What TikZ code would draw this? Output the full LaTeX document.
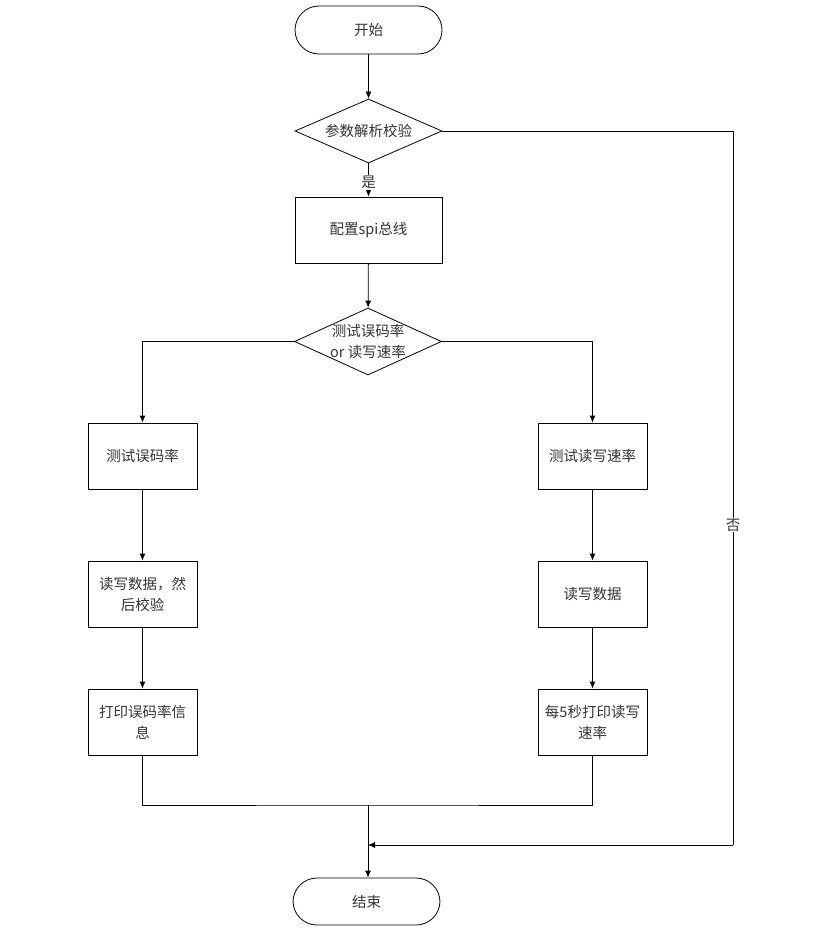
\documentclass[tikz,border=0pt]{standalone}
\usepackage{fontspec}
\setmainfont{Noto Sans CJK SC}
\usetikzlibrary{shapes.geometric,arrows.meta}

\tikzset{
  inicio/.style={draw, rounded corners=24pt, minimum width=147pt, minimum height=48pt},
  caja/.style={draw, minimum width=147pt, minimum height=66pt, align=center},
  cajita/.style={draw, minimum width=109pt, minimum height=66pt, align=center},
  decision/.style={draw, diamond, inner sep=0pt, minimum width=147pt, minimum height=64pt},
  flecha/.style={-{Latex[length=7pt,width=6pt]}},
  etiqueta/.style={fill=white, inner sep=1pt}
}

\begin{document}
\begin{tikzpicture}[x=1pt, y=-1pt, line width=0.8pt, font=\fontsize{14.5}{21}\selectfont]
            \useasboundingbox (0,0) rectangle (824,928);
            \node[inicio] (nodo1) at (368.5,30) {\color{black!80}开始};
            \node[decision] (nodo2) at (368.5,131) {};
            \node (texto2) at (nodo2) {\color{black!80}参数解析校验};
            \node[caja] (nodo3) at (368.5,230) {\color{black!80}配置spi总线};
            \node[decision, minimum height=67pt] (nodo4) at (368,341.5) {};
            \node[align=center] (texto4) at (nodo4) {\color{black!80}测试误码率\\\color{black!80}or 读写速率};
            \node[cajita] (nodo5) at (142.5,456) {\color{black!80}测试误码率};
            \node[cajita] (nodo6) at (142.5,594) {\color{black!80}读写数据，然\\\color{black!80}后校验};
            \node[cajita] (nodo7) at (142.5,722) {\color{black!80}打印误码率信\\\color{black!80}息};
            \node[cajita] (nodo8) at (592.5,456) {\color{black!80}测试读写速率};
            \node[cajita] (nodo9) at (592.5,594) {\color{black!80}读写数据};
            \node[cajita] (nodo10) at (592.5,722) {\color{black!80}每5秒打印读写\\\color{black!80}速率};
            \node[inicio, minimum height=47pt] (nodo11) at (366.5,901.5) {\color{black!80}结束};
            \coordinate (junta) at (368,805);
            \coordinate (giro) at (733,845);
            \coordinate (ingreso) at (368,845);
            \draw[flecha] (nodo1) -- (nodo2);
            \draw[flecha] (nodo2) -- node[pos=0.57, etiqueta] {\color{black!80}是} (nodo3);
            \draw[flecha] (nodo3) -- (nodo4);
            \draw[flecha] (nodo4.west) -| (nodo5.north);
            \draw[flecha] (nodo4.east) -| (nodo8.north);
            \draw[flecha] (nodo5) -- (nodo6);
            \draw[flecha] (nodo6) -- (nodo7);
            \draw[flecha] (nodo8) -- (nodo9);
            \draw[flecha] (nodo9) -- (nodo10);
            \draw (nodo7.south) |- (junta) -| (nodo10.south);
            \draw[flecha] (junta) -- (nodo11.north -| junta);
            \draw (nodo2.east) -| node[pos=0.776, etiqueta] {\color{black!80}否} (giro);
            \draw[flecha] (giro) -- (ingreso);
        \end{tikzpicture}
\end{document}
